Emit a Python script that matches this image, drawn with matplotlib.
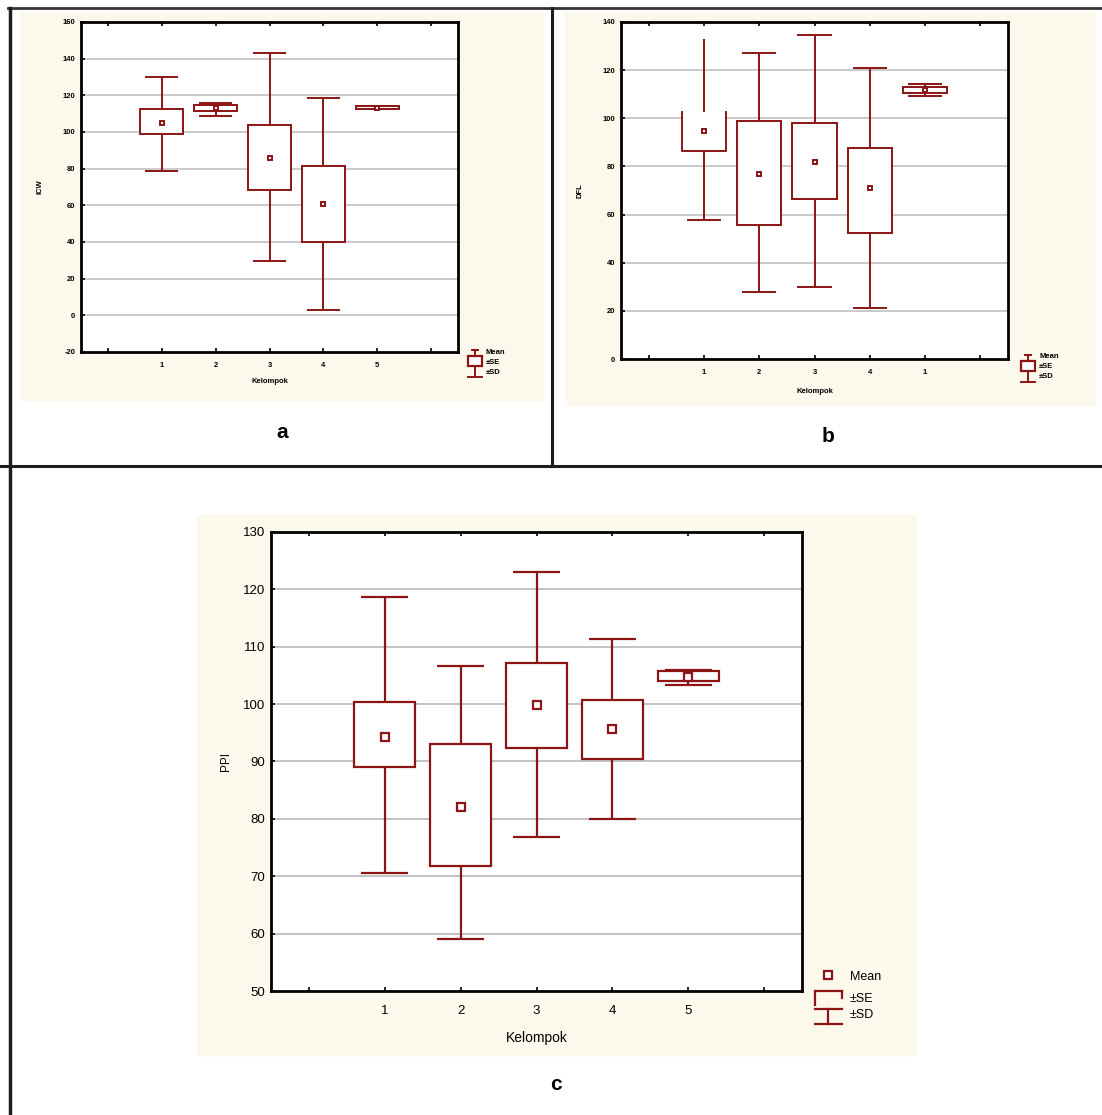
import numpy as np
import matplotlib.pyplot as plt
from matplotlib.patches import Rectangle
from matplotlib.lines import Line2D

plt.rcParams['font.family'] = ['Liberation Sans', 'DejaVu Sans']
plt.rcParams['axes.unicode_minus'] = False

W, H = 1102, 1115
RED = "#8c1414"
BEIGE = "#fdf8ec"
GRID = "#c4c4c4"

groups = [1, 2, 3, 4, 5]

# panel a
a_mean = [105, 113, 86, 61, 113.3]
a_se_lo = [99, 111.5, 68.5, 40, 112.6]
a_se_hi = [112.5, 115, 104, 81.5, 114]
a_sd_lo = [78.5, 108.5, 29.5, 3, 112.3]
a_sd_hi = [130, 116, 143, 118.5, 114.3]
a_labels = ["1", "2", "3", "4", "5"]

# panel b
b_mean = [94.8, 77, 82, 71, 111.8]
b_se_lo = [86.3, 55.6, 66.4, 52.2, 110.6]
b_se_hi = [102.6, 99, 98, 87.6, 113.2]
b_sd_lo = [57.6, 27.8, 29.9, 21, 109.3]
b_sd_hi = [132.8, 127, 134.8, 121, 114.4]
b_labels = ["1", "2", "3", "4", "1"]
b_open_top = [1]  # group drawn without box top / upper cap in the original

# panel c
c_mean = [94.2, 82, 99.8, 95.6, 104.8]
c_se_lo = [89.1, 71.8, 92.4, 90.5, 104]
c_se_hi = [100.4, 93.1, 107.1, 100.8, 105.8]
c_sd_lo = [70.5, 59, 76.8, 80, 103.3]
c_sd_hi = [118.6, 106.7, 123.1, 111.3, 105.9]
c_labels = ["1", "2", "3", "4", "5"]


def rect(x0, y0, x1, y1):
    return [x0 / W, 1 - y1 / H, (x1 - x0) / W, (y1 - y0) / H]


def fx(x):
    return x / W


def fy(y):
    return 1 - y / H


def bg(fig, x0, y0, x1, y1):
    fig.patches.append(Rectangle((fx(x0), fy(y1)), (x1 - x0) / W, (y1 - y0) / H,
                                 transform=fig.transFigure, color=BEIGE, zorder=-5))


def line(fig, xs, ys, color="#1e1e1e", lw=2.2):
    fig.add_artist(Line2D([fx(x) for x in xs], [fy(y) for y in ys],
                          transform=fig.transFigure, color=color, lw=lw))


def draw_panel(ax, mean, se_lo, se_hi, sd_lo, sd_hi, labels, yticks, ylabel,
               fs, bold, lw, ms, spine, open_top=()):
    cw, bw = 0.62, 0.8
    ax.set_facecolor("white")
    ax.set_xlim(-0.5, 6.5)
    ax.set_ylim(yticks[0], yticks[-1])
    ax.set_yticks(yticks)
    ax.set_xticks(range(7))
    ax.set_xticklabels([""] + labels + [""])
    for yv in yticks[1:-1]:
        ax.axhline(yv, color=GRID, lw=lw * 0.9, zorder=1)
    for i, g in enumerate(groups):
        kw = dict(color=RED, lw=lw, zorder=3)
        ax.vlines(g, sd_lo[i], se_lo[i], **kw)
        ax.vlines(g, se_hi[i], sd_hi[i], **kw)
        ax.hlines(sd_lo[i], g - cw / 2, g + cw / 2, **kw)
        if g in open_top:
            ax.bar(g, se_hi[i] - se_lo[i], bottom=se_lo[i], width=bw,
                   facecolor="white", edgecolor="none", zorder=4)
            ax.plot([g - bw / 2, g - bw / 2, g + bw / 2, g + bw / 2],
                    [se_hi[i], se_lo[i], se_lo[i], se_hi[i]],
                    color=RED, lw=lw, zorder=4.5)
        else:
            ax.hlines(sd_hi[i], g - cw / 2, g + cw / 2, **kw)
            ax.bar(g, se_hi[i] - se_lo[i], bottom=se_lo[i], width=bw,
                   facecolor="white", edgecolor=RED, linewidth=lw, zorder=4)
    ax.plot(groups, mean, "s", mfc="white", mec=RED, ms=ms, mew=lw, zorder=5)
    weight = "bold" if bold else "normal"
    ax.tick_params(axis="x", direction="in", top=True, bottom=True, length=3,
                   width=1.2, labelsize=fs, pad=7)
    ax.tick_params(axis="y", direction="in", left=True, right=False, length=3,
                   width=1.2, labelsize=fs, pad=4)
    for t in ax.get_xticklabels() + ax.get_yticklabels():
        t.set_fontweight(weight)
    ax.set_xlabel("Kelompok", fontsize=fs, fontweight=weight, labelpad=3)
    ax.set_ylabel(ylabel, fontsize=fs, fontweight=weight)
    for s in ax.spines.values():
        s.set_linewidth(spine)
        s.set_color("black")


fig = plt.figure(figsize=(W / 100, H / 100), dpi=100)

bg(fig, 20, 12, 543, 400)
bg(fig, 565, 12, 1095, 405)
bg(fig, 197, 515, 916, 1055)

# frame lines
line(fig, [8, W], [8, 8], color="#333333", lw=2)
line(fig, [10, 10], [8, H], lw=2.5)
line(fig, [552, 552], [8, 466], lw=2.2)
line(fig, [0, W], [466, 466], lw=2.2)

ax_a = fig.add_axes(rect(81, 22, 458, 352))
draw_panel(ax_a, a_mean, a_se_lo, a_se_hi, a_sd_lo, a_sd_hi, a_labels,
           list(range(-20, 161, 20)), "ICW", 5.5, True, 1.4, 3.5, 2)
ax_a.yaxis.labelpad = 14
ax_a.xaxis.labelpad = 7

ax_b = fig.add_axes(rect(621, 22, 1008, 359))
draw_panel(ax_b, b_mean, b_se_lo, b_se_hi, b_sd_lo, b_sd_hi, b_labels,
           list(range(0, 141, 20)), "DFL", 5.5, True, 1.4, 3.5, 2,
           open_top=b_open_top)
ax_b.yaxis.labelpad = 14
ax_b.xaxis.labelpad = 9

ax_c = fig.add_axes(rect(271, 532, 802, 991))
draw_panel(ax_c, c_mean, c_se_lo, c_se_hi, c_sd_lo, c_sd_hi, c_labels,
           list(range(50, 131, 10)), "PPI", 9.5, False, 1.6, 6, 2)
ax_c.xaxis.label.set_size(10)
ax_c.yaxis.label.set_size(8.5)
ax_c.yaxis.labelpad = 8
ax_c.xaxis.labelpad = 10
ax_c.tick_params(axis="x", pad=10)

# panel letters
fig.text(fx(282), fy(432), "a", fontsize=15, fontweight="bold", ha="center", va="center")
fig.text(fx(828), fy(436), "b", fontsize=15, fontweight="bold", ha="center", va="center")
fig.text(fx(556), fy(1085), "c", fontsize=15, fontweight="bold", ha="center", va="center")


# small legends (a, b)
def small_legend(x0, y0):
    # x0: left of icon, y0: top of icon
    cx = x0 + 7
    line(fig, [cx - 3, cx + 3], [y0, y0], color=RED, lw=1.4)
    line(fig, [cx, cx], [y0, y0 + 6], color=RED, lw=1.4)
    fig.patches.append(Rectangle((fx(x0), fy(y0 + 16)), 14 / W, 10 / H,
                                 transform=fig.transFigure, facecolor="white",
                                 edgecolor=RED, lw=1.6, zorder=3))
    line(fig, [cx, cx], [y0 + 16, y0 + 27], color=RED, lw=1.4)
    line(fig, [x0, x0 + 14], [y0 + 27, y0 + 27], color=RED, lw=1.4)
    for i, s in enumerate(["Mean", "±SE", "±SD"]):
        fig.text(fx(x0 + 18), fy(y0 + 2 + i * 10), s, fontsize=5.5,
                 fontweight="bold", ha="left", va="center")


small_legend(468, 350)
small_legend(1021, 355)

# legend c
fig.add_artist(Line2D([fx(828)], [fy(975)], transform=fig.transFigure, marker="s",
                      ms=6, mfc="white", mec=RED, mew=1.6, ls="none"))
line(fig, [815, 842], [991, 991], color=RED, lw=1.6)
line(fig, [815, 815], [991, 1005], color=RED, lw=1.6)
line(fig, [842, 842], [991, 998], color=RED, lw=1.6)
line(fig, [815, 842], [1009, 1009], color=RED, lw=1.6)
line(fig, [828, 828], [1009, 1024], color=RED, lw=1.6)
line(fig, [815, 842], [1024, 1024], color=RED, lw=1.6)
fig.text(fx(850), fy(977), "Mean", fontsize=9, ha="left", va="center")
fig.text(fx(850), fy(999), "±SE", fontsize=9, ha="left", va="center")
fig.text(fx(850), fy(1015), "±SD", fontsize=9, ha="left", va="center")

fig.savefig("out.png", dpi=100, facecolor="white")
